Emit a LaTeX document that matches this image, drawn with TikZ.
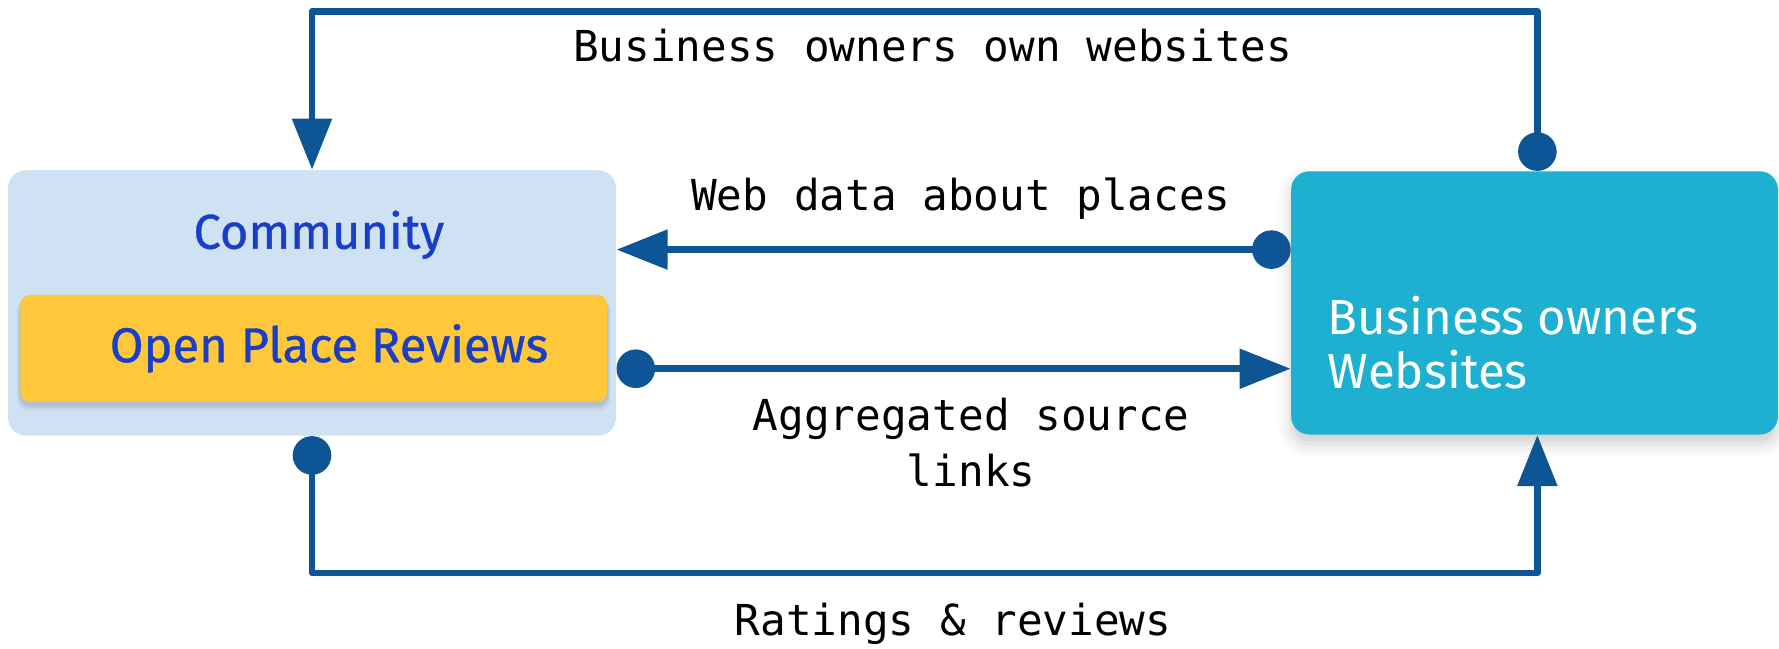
\documentclass[tikz,border=0pt]{standalone}
\usepackage{fontspec}
\newfontfamily\boxfont{Fira Sans}
\newfontfamily\boxfontmed[FakeBold=0.8]{Fira Sans}
\newfontfamily\monofont{DejaVu Sans Mono}
\usetikzlibrary{arrows.meta,shadows.blur}
\definecolor{lineblue}{HTML}{0E5596}
\definecolor{commfill}{HTML}{CFE2F3}
\definecolor{yellowfill}{HTML}{FFC73A}
\definecolor{textblue}{HTML}{1A3FC6}
\definecolor{tealfill}{HTML}{1EB0D0}
\tikzset{
  conn/.style={line width=3pt, draw=lineblue, line join=round,
    {Circle[length=17pt,width=17pt]}-{Triangle[length=22.5pt,width=17pt]}},
  lbl/.style={font=\monofont\fontsize{18.8pt}{24.5pt}\selectfont, text=black, inner sep=0pt},
  boxtxt/.style={font=\boxfont\fontsize{21.7pt}{24pt}\selectfont, inner sep=0pt},
  boxtxtmed/.style={font=\boxfontmed\fontsize{21.5pt}{24pt}\selectfont, inner sep=0pt},
}
\begin{document}
\begin{tikzpicture}[x=0.5pt,y=-0.5pt]
\useasboundingbox (0,0) rectangle (1568,572);
% boxes
\node[fill=commfill, rounded corners=8pt, minimum width=268pt, minimum height=117pt, inner sep=0pt] (comm) at (275,267) {};
% soft shadow of the inner box
\foreach \s/\o in {3/0.04,2/0.05,1/0.06}
  \fill[black, opacity=\o, rounded corners=5pt] (18-\s,263) rectangle (535+\s,356+\s*2);
\node[fill=yellowfill, rounded corners=4pt, minimum width=258.5pt, minimum height=47pt, inner sep=0pt] (opr) at (276.5,307) {};
\node[fill=tealfill, rounded corners=8pt, minimum width=214.5pt, minimum height=116pt, inner sep=0pt,
  blur shadow={shadow xshift=0pt, shadow yshift=-4pt, shadow blur radius=6pt, shadow opacity=20}] (bw) at (1352.5,267) {};
% box texts
\node[boxtxtmed, text=textblue] (commtxt) at (281,207) {Community};
\node[boxtxtmed, text=textblue] (oprtxt) at (290,307) {Open Place Reviews};
\node[boxtxt, text=white, align=left, anchor=west] (bwtxt) at (1170,302) {Business owners\\Websites};
% connector coordinates
\coordinate (t1) at (1355,10);
\coordinate (t2) at (275,10);
\coordinate (b1) at (275,505);
\coordinate (b2) at (1355,505);
\coordinate (m1) at (0,220);
\coordinate (m2) at (0,325);
% connectors
\draw[conn] (bw.north -| t1) -- (t1) -- (t2) -- (comm.north -| t2);
\draw[conn] (bw.west |- m1) -- (comm.east |- m1);
\draw[conn] (comm.east |- m2) -- (bw.west |- m2);
\draw[conn] (comm.south -| b1) -- (b1) -- (b2) -- (bw.south -| b2);
% labels
\node[lbl] (l1) at (822,40) {Business owners own websites};
\node[lbl] (l2) at (847,175) {Web data about places};
\node[lbl, align=center] (l3) at (856,390) {Aggregated source\\links};
\node[lbl] (l4) at (840,550) {Ratings \& reviews};
\end{tikzpicture}
\end{document}
